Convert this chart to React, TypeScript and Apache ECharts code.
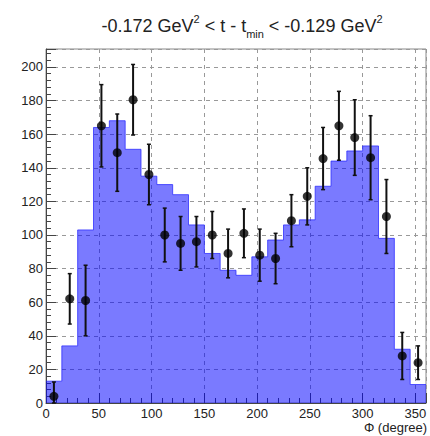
import React, { useEffect, useRef } from 'react';
import * as echarts from 'echarts';

// Histogram (simulation) bins: 15 degree wide
const binStarts = [0, 15, 30, 45, 60, 75, 90, 105, 120, 135, 150, 165, 180, 195, 210, 225, 240, 255, 270, 285, 300, 315, 330, 345];
const lastEdge = 360;
const mcCounts = [13, 34, 103, 164, 168, 151, 135, 130, 124, 106, 89, 79, 76, 87, 97, 106, 109, 129, 144, 150, 153, 98, 32, 11];

// Data points with errors
const dataPhi = [7.5, 22.5, 37.5, 52.5, 67.5, 82.5, 97.5, 112.5, 127.5, 142.5, 157.5, 172.5, 187.5, 202.5, 217.5, 232.5, 247.5, 262.5, 277.5, 292.5, 307.5, 322.5, 337.5, 352.5];
const dataCounts = [4, 62, 61, 165, 149, 180.5, 136, 100, 95, 96, 100, 89, 101, 88, 86, 108.5, 123, 145.5, 165, 158, 146, 111, 28, 24];
const dataErrors = [8.5, 15, 21, 24.5, 23, 21, 18, 16, 16, 15, 14, 14.5, 14.5, 15.5, 15, 15.5, 17, 18.5, 20.5, 22.5, 25, 22, 14, 10];

const xTicks = [0, 50, 100, 150, 200, 250, 300, 350];
const yTicks = [0, 20, 40, 60, 80, 100, 120, 140, 160, 180, 200];

const FONT = 'Liberation Sans, Arial, Helvetica, sans-serif';

export default function App() {
  const ref = useRef<HTMLDivElement>(null);
  useEffect(() => {
    document.body.style.margin = '0';
    if (!ref.current) return;
    const chart = echarts.init(ref.current, undefined, { renderer: 'svg' });

    const stepData = binStarts.map((s, i) => [s, mcCounts[i]]);
    stepData.push([lastEdge, mcCounts[mcCounts.length - 1]]);
    const errData = dataPhi.map((x, i) => [x, dataCounts[i], dataErrors[i]]);
    const pts = dataPhi.map((x, i) => [x, dataCounts[i]]);

    const option: any = {
      animation: false,
      title: {
        text: '-0.172 GeV{sup|2} < t - t{sub|min} < -0.129 GeV{sup|2}',
        left: 237,
        textAlign: 'center',
        top: 8,
        textStyle: {
          fontFamily: FONT,
          fontSize: 18,
          fontWeight: 'normal',
          color: '#222',
          lineHeight: 26,
          rich: {
            sup: { fontFamily: FONT, fontSize: 11, color: '#222', verticalAlign: 'top', lineHeight: 26 },
            sub: { fontFamily: FONT, fontSize: 11, color: '#222', verticalAlign: 'bottom', lineHeight: 26 },
          },
        },
      },
      grid: {
        left: 46,
        top: 49,
        width: 380,
        height: 354,
        show: true,
        borderColor: '#888',
        borderWidth: 1,
        backgroundColor: 'transparent',
      },
      xAxis: {
        type: 'value',
        min: 0,
        max: 360,
        interval: 50,
        axisLine: { show: true, onZero: false, lineStyle: { color: '#444' } },
        axisTick: { show: true, inside: true, length: 10, lineStyle: { color: '#444' } },
        minorTick: { show: true, splitNumber: 5, length: 5, lineStyle: { color: '#444' } },
        splitLine: { show: true, lineStyle: { color: '#999', type: [4, 4], width: 1 } },
        axisLabel: {
          fontFamily: FONT,
          fontSize: 13,
          color: '#222',
          margin: 4,
          formatter: (v: number) => (xTicks.indexOf(v) >= 0 ? String(v) : ''),
        },
      },
      yAxis: {
        type: 'value',
        min: 0,
        max: 210.7,
        interval: 20,
        axisLine: { show: true, lineStyle: { color: '#444' } },
        axisTick: { show: true, inside: true, length: 10, lineStyle: { color: '#444' } },
        minorTick: { show: true, splitNumber: 5, length: 5, lineStyle: { color: '#444' } },
        splitLine: { show: true, lineStyle: { color: '#999', type: [4, 4], width: 1 } },
        axisLabel: {
          fontFamily: FONT,
          fontSize: 13,
          color: '#222',
          margin: 3,
          formatter: (v: number) => (yTicks.indexOf(v) >= 0 ? String(v) : ''),
        },
      },
      graphic: [
        {
          type: 'text',
          right: 3,
          top: 421,
          style: { text: 'Φ (degree)', fontFamily: FONT, fontSize: 13, fill: '#222' },
        },
      ],
      series: [
        {
          type: 'line',
          z: 1,
          step: 'end',
          data: stepData,
          showSymbol: false,
          symbol: 'none',
          lineStyle: { color: 'rgba(40,40,255,0.75)', width: 1 },
          areaStyle: { color: 'rgba(0,0,255,0.52)', opacity: 1, origin: 'start' },
        },
        {
          type: 'custom',
          z: 3,
          data: errData,
          renderItem: (params: any, api: any) => {
            const x = api.value(0);
            const y = api.value(1);
            const e = api.value(2);
            const top = api.coord([x, y + e]);
            const bot = api.coord([x, Math.max(0, y - e)]);
            return {
              type: 'group',
              children: [
                { type: 'line', shape: { x1: top[0], y1: top[1], x2: bot[0], y2: bot[1] }, style: { stroke: '#111', lineWidth: 2 } },
                { type: 'line', shape: { x1: top[0] - 2, y1: top[1], x2: top[0] + 2, y2: top[1] }, style: { stroke: '#111', lineWidth: 1.5 } },
                { type: 'line', shape: { x1: bot[0] - 2, y1: bot[1], x2: bot[0] + 2, y2: bot[1] }, style: { stroke: '#111', lineWidth: 1.5 } },
              ],
            };
          },
        },
        {
          type: 'scatter',
          z: 4,
          data: pts,
          symbol: 'circle',
          symbolSize: 9,
          itemStyle: { color: '#000' },
        },
      ],
    };
    chart.setOption(option);
    return () => chart.dispose();
  }, []);
  return <div ref={ref} style={{ width: 430, height: 436 }} />;
}
